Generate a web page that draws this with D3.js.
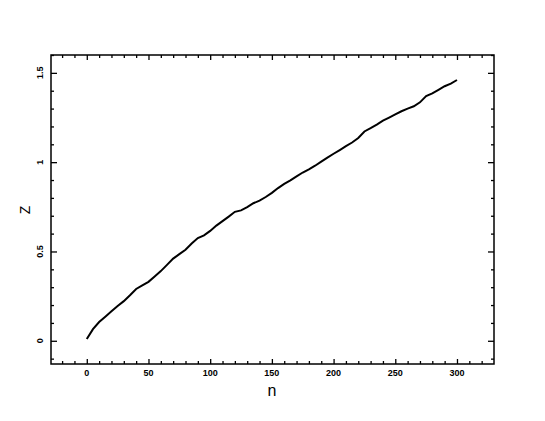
<!DOCTYPE html>
<html>
<head>
<meta charset="utf-8">
<script src="https://cdn.jsdelivr.net/npm/d3@7"></script>
<style>
  body { margin: 0; background: #fff; }
  text { font-family: "Liberation Sans", Arial, sans-serif; fill: #000; }
</style>
</head>
<body>
<script>
// data (n step of 5)
var nValues = d3.range(0, 301, 5);
var zValues = [0.01, 0.065, 0.105, 0.135, 0.165, 0.195, 0.222, 0.255, 0.29, 0.31,
  0.33, 0.36, 0.39, 0.425, 0.46, 0.485, 0.51, 0.545, 0.575, 0.59,
  0.615, 0.645, 0.67, 0.695, 0.722, 0.73, 0.748, 0.77, 0.785, 0.805,
  0.828, 0.855, 0.878, 0.898, 0.92, 0.942, 0.96, 0.98, 1.003, 1.025,
  1.047, 1.068, 1.09, 1.11, 1.135, 1.172, 1.19, 1.21, 1.232, 1.25,
  1.268, 1.285, 1.3, 1.313, 1.335, 1.37, 1.385, 1.405, 1.425, 1.44, 1.46];
var xTicks = [0, 50, 100, 150, 200, 250, 300];
var yTicks = [0, 0.5, 1, 1.5];
var yTickLabels = ["0", "0.5", "1", "1.5"];

var points = nValues.map(function(n, i) { return {n: n, z: zValues[i]}; });

var W = 545, H = 421;
var pLeft = 51, pRight = 494, pTop = 55, pBottom = 364;

var x = d3.scaleLinear().domain([-29, 330]).range([pLeft, pRight]);
var y = d3.scaleLinear().domain([-0.13, 1.6]).range([pBottom, pTop]);

var svg = d3.select("body").append("svg")
  .attr("width", W)
  .attr("height", H);

// frame
svg.append("rect")
  .attr("x", pLeft).attr("y", pTop)
  .attr("width", pRight - pLeft).attr("height", pBottom - pTop)
  .attr("fill", "none").attr("stroke", "#000").attr("stroke-width", 1.5);

var xMinor = d3.range(-20, 330, 10);
var yMinor = d3.range(-0.1, 1.61, 0.1).map(function(v) { return Math.round(v * 10) / 10; });
function isMajorX(v) { return v % 50 === 0; }
function isMajorY(v) { return Math.abs(v * 2 - Math.round(v * 2)) < 1e-6; }

// bottom axis + top ticks (inward)
var xb = svg.append("g").attr("transform", "translate(0," + pBottom + ")")
  .call(d3.axisBottom(x).tickValues(xMinor).tickSizeOuter(0).tickFormat(""));
var xt = svg.append("g").attr("transform", "translate(0," + pTop + ")")
  .call(d3.axisTop(x).tickValues(xMinor).tickSizeOuter(0).tickFormat(""));
[xb, xt].forEach(function(g) {
  g.select(".domain").remove();
  g.selectAll(".tick line")
    .attr("stroke-width", 1.3)
    .attr("y2", function(d) { var s = isMajorX(d) ? 5 : 3; return g === xb ? -s : s; });
});

// left axis + right ticks (inward)
var yl = svg.append("g").attr("transform", "translate(" + pLeft + ",0)")
  .call(d3.axisLeft(y).tickValues(yMinor).tickSizeOuter(0).tickFormat(""));
var yr = svg.append("g").attr("transform", "translate(" + pRight + ",0)")
  .call(d3.axisRight(y).tickValues(yMinor).tickSizeOuter(0).tickFormat(""));
[yl, yr].forEach(function(g) {
  g.select(".domain").remove();
  g.selectAll(".tick line")
    .attr("stroke-width", 1.3)
    .attr("x2", function(d) { var s = isMajorY(d) ? 6 : 3; return g === yl ? s : -s; });
});

// tick labels
svg.selectAll(".xlab")
  .data(xTicks)
  .enter().append("text")
  .attr("class", "xlab")
  .attr("x", function(d) { return x(d); })
  .attr("y", 376)
  .attr("text-anchor", "middle")
  .style("font-size", "9px")
  .style("font-weight", "bold")
  .text(function(d) { return d; });

svg.selectAll(".ylab")
  .data(yTicks)
  .enter().append("text")
  .attr("class", "ylab")
  .attr("transform", function(d) { return "translate(43," + y(d) + ") rotate(-90)"; })
  .attr("text-anchor", "middle")
  .style("font-size", "9px")
  .style("font-weight", "bold")
  .text(function(d, i) { return yTickLabels[i]; });

// axis titles
svg.append("text")
  .attr("x", x(150))
  .attr("y", 396)
  .attr("text-anchor", "middle")
  .style("font-size", "16px")
  .text("n");

svg.append("text")
  .attr("transform", "translate(30," + 210 + ") rotate(-90)")
  .attr("text-anchor", "middle")
  .style("font-size", "14px")
  .text("Z");

// the curve
var line = d3.line()
  .x(function(d) { return x(d.n); })
  .y(function(d) { return y(d.z); });

svg.append("path")
  .datum(points)
  .attr("d", line)
  .attr("fill", "none")
  .attr("stroke", "#000")
  .attr("stroke-width", 2);
</script>
</body>
</html>
